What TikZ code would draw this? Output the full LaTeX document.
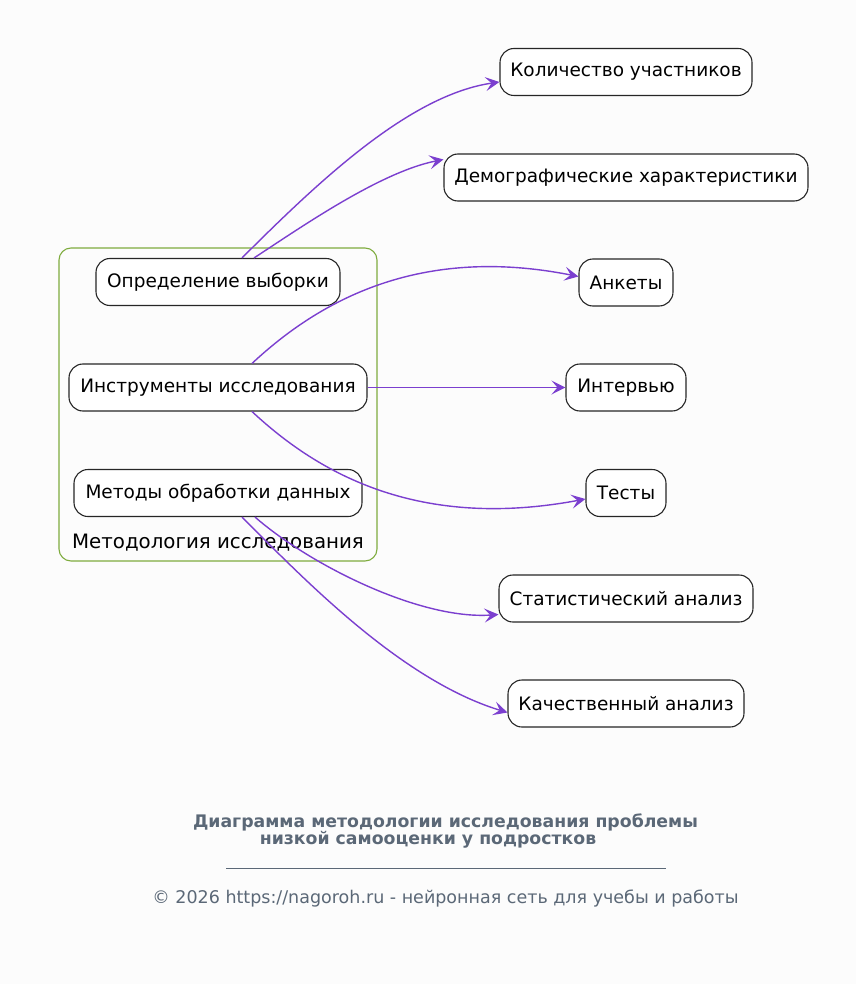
\documentclass[tikz,border=0pt]{standalone}
\usepackage{fontspec}
\setmainfont{DejaVu Sans}
\usetikzlibrary{arrows.meta}
\definecolor{bgc}{HTML}{FCFCFC}
\definecolor{edgec}{HTML}{7B3FCF}
\definecolor{clusterc}{HTML}{7FAC3F}
\definecolor{titlec}{HTML}{5B6877}
\tikzset{
  box/.style={draw=black!85, line width=1.1pt, fill=white, rounded corners=14pt,
    minimum height=47pt, inner sep=0pt, font=\fontsize{18.5}{22}\selectfont},
  edge/.style={draw=edgec, line width=1.4pt, -{Stealth[length=14pt,width=14pt,inset=6pt]}},
  cluster/.style={draw=clusterc, line width=1.1pt, rounded corners=12pt},
}
\begin{document}
\begin{tikzpicture}[x=1pt,y=-1pt]
\fill[bgc] (0,0) rectangle (856,984);
\useasboundingbox (0,0) rectangle (856,984);
% cluster
\draw[cluster] (59,248) rectangle (377,561);
\node[font=\fontsize{19.8}{23}\selectfont] (clab) at (218,543) {Методология исследования};
% left nodes
\node[box, minimum width=244pt] (def) at (218,282) {Определение выборки};
\node[box, minimum width=298pt] (ins) at (218,387.5) {Инструменты исследования};
\node[box, minimum width=288pt] (met) at (218,493) {Методы обработки данных};
% right nodes
\node[box, minimum width=252pt] (kol) at (626,72) {Количество участников};
\node[box, minimum width=364pt] (dem) at (626,177.5) {Демографические характеристики};
\node[box, minimum width=94pt] (ank) at (626,282.5) {Анкеты};
\node[box, minimum width=120pt] (int) at (626,387.5) {Интервью};
\node[box, minimum width=80pt] (tes) at (626,493) {Тесты};
\node[box, minimum width=254pt] (sta) at (626,598.5) {Статистический анализ};
\node[box, minimum width=236pt] (kac) at (626,703.5) {Качественный анализ};
% edges
\draw[edge] ([xshift=24pt]def.north) .. controls (320,180) and (410,95) .. ([yshift=-10pt]kol.west);
\draw[edge] ([xshift=36pt]def.north) .. controls (300,228) and (380,172) .. ([yshift=18pt]dem.west);
\draw[edge] ([xshift=34pt]ins.north) .. controls (320,300) and (420,245) .. ([yshift=6pt]ank.west);
\draw[edge] (ins.east) -- (int.west);
\draw[edge] ([xshift=34pt]ins.south) .. controls (320,475) and (420,530) .. ([yshift=-6pt]tes.west);
\draw[edge] ([xshift=37pt]met.south) .. controls (310,565) and (420,620) .. ([yshift=-16pt]sta.west);
\draw[edge] ([xshift=24pt]met.south) .. controls (300,575) and (400,680) .. ([yshift=-9pt]kac.west);
% title & footer
\node[text=titlec, font=\fontsize{17.3}{20}\selectfont\bfseries] (t1) at (445.5,822) {Диаграмма методологии исследования проблемы};
\node[text=titlec, font=\fontsize{17.3}{20}\selectfont\bfseries] (t2) at (428,840) {низкой самооценки у подростков};
\coordinate (ra) at (226,868);
\coordinate (rb) at (666,868);
\draw[titlec, line width=0.9pt] (ra) -- (rb);
\node[text=titlec, font=\fontsize{17.5}{20}\selectfont] (foot) at (445.5,899) {© 2026 https://nagoroh.ru - нейронная сеть для учебы и работы};
\end{tikzpicture}
\end{document}
